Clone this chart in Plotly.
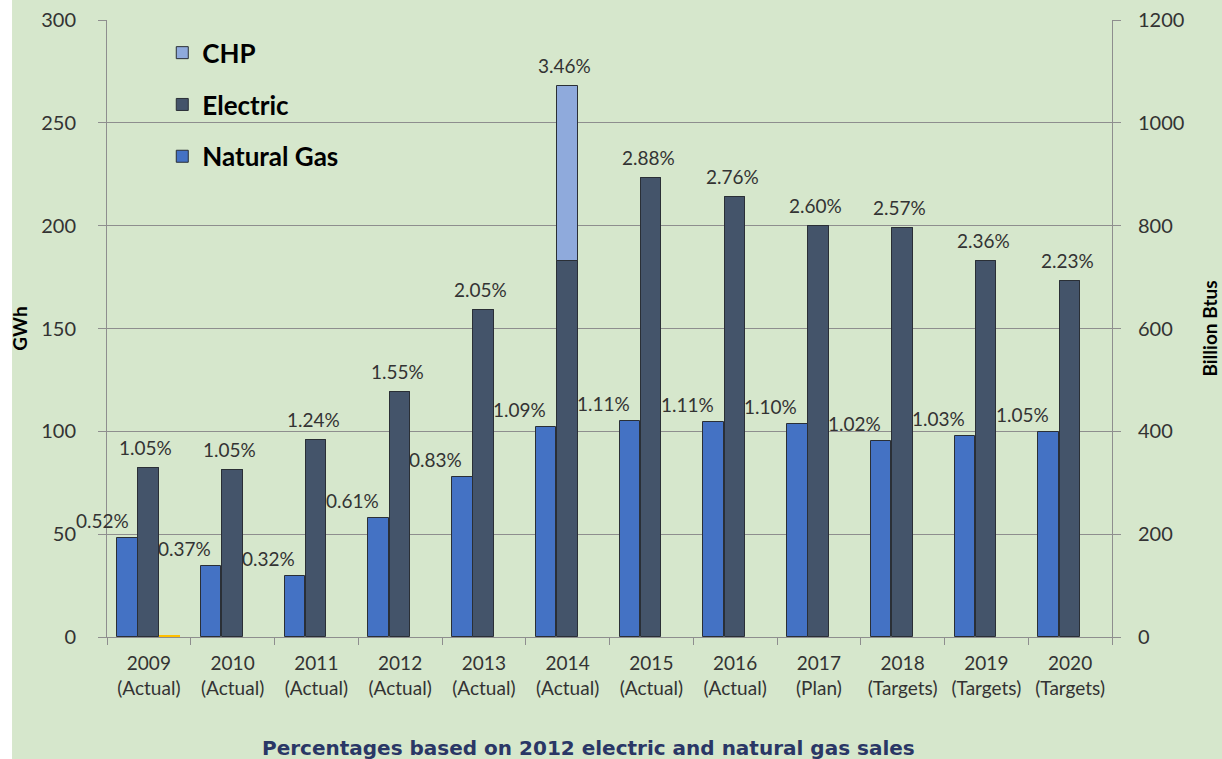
import plotly.graph_objects as go

years = ["2009", "2010", "2011", "2012", "2013", "2014", "2015", "2016", "2017", "2018", "2019", "2020"]
status = ["Actual", "Actual", "Actual", "Actual", "Actual", "Actual", "Actual", "Actual", "Plan", "Targets", "Targets", "Targets"]
categories = [f"{y}<br>({s})" for y, s in zip(years, status)]

electric_gwh = [82, 81, 96, 119, 159, 183, 223, 214, 200, 199, 183, 173]
chp_gwh = [0, 0, 0, 0, 0, 85, 0, 0, 0, 0, 0, 0]
other_gwh = [0.7, 0, 0, 0, 0, 0, 0, 0, 0, 0, 0, 0]
gas_bbtu = [193, 139, 118, 231, 311, 408, 420, 418, 414, 381, 391, 399]

electric_pct = ["1.05%", "1.05%", "1.24%", "1.55%", "2.05%", "3.46%", "2.88%", "2.76%", "2.60%", "2.57%", "2.36%", "2.23%"]
gas_pct = ["0.52%", "0.37%", "0.32%", "0.61%", "0.83%", "1.09%", "1.11%", "1.11%", "1.10%", "1.02%", "1.03%", "1.05%"]

BG = "#d6e7cc"
GRID = "#8e8e8e"
TXT = "#333333"
FONT = "Lato"
W = 0.245
line = dict(color="#2a2f36", width=1)

fig = go.Figure()
fig.add_trace(go.Bar(name="CHP", x=categories, y=chp_gwh, base=electric_gwh, marker=dict(color="#8faadc", line=line),
                     width=W, offset=-0.125, legendgroup="a", yaxis="y"))
fig.add_trace(go.Bar(name="Electric", x=categories, y=electric_gwh, marker=dict(color="#44546a", line=line),
                     width=W, offset=-0.125, legendgroup="b", yaxis="y"))
fig.add_trace(go.Bar(name="Other", x=categories, y=other_gwh, marker=dict(color="#ffc000", line=dict(width=0)),
                     width=W, offset=0.125, showlegend=False, legendgroup="d", yaxis="y"))
fig.add_trace(go.Bar(name="Natural Gas", x=categories, y=gas_bbtu, marker=dict(color="#4472c4", line=line),
                     width=W, offset=-0.38, legendgroup="c", yaxis="y2"))

ann = []
for i in range(len(categories)):
    ann.append(dict(x=i, y=electric_gwh[i] + chp_gwh[i], xref="x", yref="y", text=electric_pct[i],
                    showarrow=False, yanchor="bottom", yshift=7, xshift=-3,
                    font=dict(family=FONT, size=19, color=TXT)))
    ann.append(dict(x=i, y=gas_bbtu[i], xref="x", yref="y2", text=gas_pct[i],
                    showarrow=False, yanchor="bottom", yshift=4, xshift=-46 if i == 0 else -48,
                    font=dict(family=FONT, size=19, color=TXT)))
ann.append(dict(x=0.479, y=-0.18, xref="paper", yref="paper", yanchor="middle",
                text="<b>Percentages based on 2012 electric and natural gas sales</b>", showarrow=False,
                font=dict(family="DejaVu Sans", size=20, color="#2a3766")))

fig.update_layout(
    width=1222, height=759,
    margin=dict(l=107, r=110, t=20, b=122),
    paper_bgcolor=BG, plot_bgcolor=BG,
    barmode="overlay",
    font=dict(family=FONT, color=TXT, size=19),
    xaxis=dict(range=[-0.5, 11.5], showline=True, linecolor=GRID, ticks="outside", tickson="boundaries",
               tickcolor=GRID, ticklen=7, tickfont=dict(family=FONT, size=19, color=TXT), showgrid=False,
               automargin=False, ticklabelstandoff=9),
    yaxis=dict(range=[0, 300], dtick=50, showline=True, linecolor=GRID, gridcolor=GRID, ticks="outside",
               tickcolor=GRID, ticklen=8, tickfont=dict(family=FONT, size=20, color=TXT), zeroline=False,
               automargin=False, ticklabelstandoff=18,
               title=dict(text="GWh", font=dict(family=FONT, size=19, color="#000000", weight="bold"), standoff=8)),
    yaxis2=dict(range=[0, 1200], dtick=200, overlaying="y", side="right", showline=True, linecolor=GRID,
                showgrid=False, ticks="outside", tickcolor=GRID, ticklen=8, zeroline=False, automargin=False,
                ticklabelstandoff=13, tickfont=dict(family=FONT, size=20, color=TXT),
                title=dict(text="Billion Btus", font=dict(family=FONT, size=19, color="#000000", weight="bold"),
                           standoff=20)),
    legend=dict(x=0.055, y=0.985, xanchor="left", yanchor="top", bgcolor="rgba(0,0,0,0)",
                font=dict(family=FONT, size=26, color="#000000", weight="bold"), tracegroupgap=15,
                traceorder="grouped"),
    annotations=ann,
    shapes=[dict(type="rect", xref="paper", yref="paper", x0=-0.2, x1=-0.0945, y0=-0.3, y1=1.1,
                 fillcolor="#ffffff", line=dict(width=0), layer="below")],
    bargap=0,
)

fig.write_html("out.html", config={"displayModeBar": False},
               post_script="document.body.style.margin='0px';document.body.style.overflow='hidden';")
